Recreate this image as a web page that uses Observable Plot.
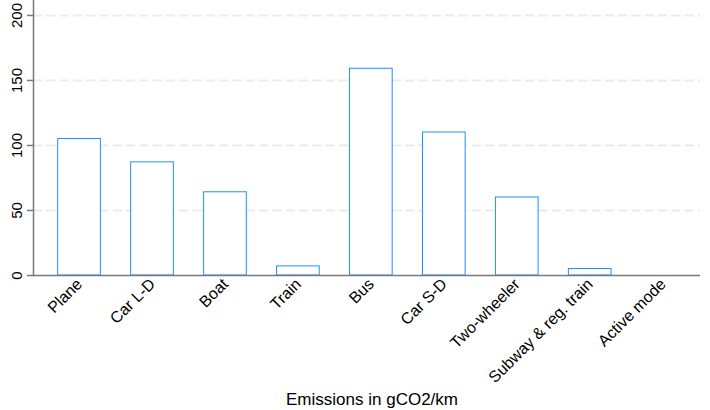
<!DOCTYPE html>
<html>
<head>
<meta charset="utf-8">
<script src="https://cdn.jsdelivr.net/npm/d3@7"></script>
<script src="https://cdn.jsdelivr.net/npm/@observablehq/plot@0.6"></script>
<style>
  html, body { margin: 0; padding: 0; background: #fff; }
  #chart svg { display: block; }
</style>
</head>
<body>
<div id="chart"></div>
<script>
const categories = ["Plane", "Car L-D", "Boat", "Train", "Bus", "Car S-D", "Two-wheeler", "Subway & reg. train", "Active mode"];
const values = [105, 87, 64, 7, 159, 110, 60, 5, 0];
const yTicks = [0, 50, 100, 150, 200];
const gridTicks = [50, 100, 150, 200];
const xTitle = "Emissions in gCO2/km";

const data = categories.map((c, i) => ({category: c, value: values[i]}));

const chart = Plot.plot({
  width: 710,
  height: 410,
  marginTop: 0,
  marginLeft: 33,
  marginRight: 10,
  marginBottom: 135,
  style: {fontFamily: "'Liberation Sans', Arial, sans-serif", color: "#000", background: "#fff"},
  x: {domain: categories, type: "band", range: [57.7, 684], paddingInner: 0.415, paddingOuter: 0, round: false, axis: null},
  y: {domain: [0, 211.5], axis: null},
  marks: [
    Plot.ruleY(gridTicks, {stroke: "#ebebeb", strokeWidth: 2, strokeDasharray: "9,4.3"}),
    Plot.barY(data, {x: "category", y: "value", fill: "white", stroke: "#1E90FF", strokeWidth: 1}),
    Plot.ruleY([0], {stroke: "#7a7a7a", strokeWidth: 1.5}),
    Plot.frame({anchor: "left", stroke: "#7a7a7a", strokeWidth: 1.5}),
    Plot.axisY({ticks: yTicks, tickSize: 6, tickFormat: () => "", label: null, stroke: "#7a7a7a", strokeWidth: 1.5}),
    Plot.text(yTicks, {y: d => d, text: d => String(d), frameAnchor: "left", rotate: -90, textAnchor: "middle", lineAnchor: "bottom", dx: -12, fontSize: 15, fill: "#000"}),
    Plot.text(categories, {x: d => d, text: d => d, frameAnchor: "bottom", rotate: -45, textAnchor: "end", lineAnchor: "middle", dx: 0, dy: 6, fontSize: 16, fill: "#000"}),
    Plot.text([xTitle], {text: d => d, frameAnchor: "bottom", dx: 5, dy: 129, fontSize: 17, fill: "#000"})
  ]
});

document.getElementById("chart").appendChild(chart);
</script>
</body>
</html>
